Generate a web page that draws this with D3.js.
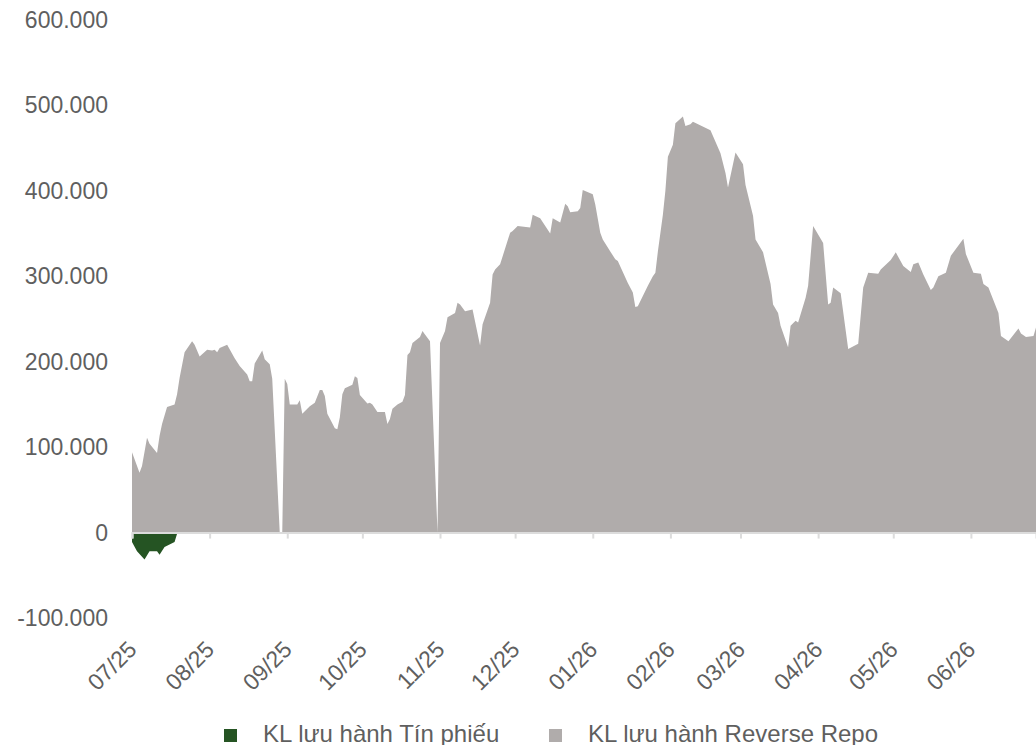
<!DOCTYPE html>
<html>
<head>
<meta charset="utf-8">
<script src="https://cdnjs.cloudflare.com/ajax/libs/d3/7.8.5/d3.min.js"></script>
<style>
  html, body { margin: 0; padding: 0; background: #fff; }
  #main { width: 1036px; height: 745px; }
  text { font-family: "Liberation Sans", Arial, sans-serif; fill: #5f5f5f; }
</style>
</head>
<body>
<div id="main"></div>
<script>
'use strict' ;

// KL luu hanh Reverse Repo
var repoDates = [
  '2025-07-01','2025-07-04','2025-07-05','2025-07-07','2025-07-08','2025-07-11','2025-07-12','2025-07-13',
  '2025-07-15','2025-07-18','2025-07-19','2025-07-20','2025-07-22','2025-07-25','2025-07-26','2025-07-28',
  '2025-07-31','2025-08-02','2025-08-03','2025-08-04','2025-08-05','2025-08-08','2025-08-11','2025-08-13',
  '2025-08-16','2025-08-17','2025-08-18','2025-08-19','2025-08-22','2025-08-23','2025-08-25','2025-08-26',
  '2025-08-29','2025-08-30','2025-08-31','2025-09-01','2025-09-02','2025-09-05','2025-09-06','2025-09-07',
  '2025-09-08','2025-09-10','2025-09-12','2025-09-14','2025-09-15','2025-09-16','2025-09-17','2025-09-20',
  '2025-09-21','2025-09-22','2025-09-23','2025-09-24','2025-09-27','2025-09-28','2025-09-29','2025-09-30',
  '2025-10-03','2025-10-04','2025-10-05','2025-10-07','2025-10-10','2025-10-11','2025-10-12','2025-10-13',
  '2025-10-15','2025-10-17','2025-10-18','2025-10-19','2025-10-20','2025-10-21','2025-10-24','2025-10-25',
  '2025-10-26','2025-10-28','2025-10-31','2025-11-01','2025-11-03','2025-11-04','2025-11-07','2025-11-08',
  '2025-11-09','2025-11-11','2025-11-14','2025-11-17','2025-11-18','2025-11-21','2025-11-22','2025-11-23',
  '2025-11-25','2025-11-29','2025-11-30','2025-12-02','2025-12-07','2025-12-08','2025-12-11','2025-12-15',
  '2025-12-16','2025-12-19','2025-12-21','2025-12-22','2025-12-23','2025-12-26','2025-12-27','2025-12-28',
  '2026-01-01','2026-01-02','2026-01-04','2026-01-05','2026-01-08','2026-01-10','2026-01-11','2026-01-15',
  '2026-01-17','2026-01-18','2026-01-19','2026-01-23','2026-01-25','2026-01-26','2026-01-27','2026-01-29',
  '2026-01-30','2026-01-31','2026-02-02','2026-02-03','2026-02-06','2026-02-07','2026-02-09','2026-02-10',
  '2026-02-17','2026-02-21','2026-02-23','2026-02-24','2026-02-27','2026-03-02','2026-03-03','2026-03-06',
  '2026-03-07','2026-03-10','2026-03-13','2026-03-14','2026-03-16','2026-03-17','2026-03-20','2026-03-21',
  '2026-03-23','2026-03-24','2026-03-27','2026-03-28','2026-03-30','2026-04-03','2026-04-05','2026-04-06',
  '2026-04-07','2026-04-10','2026-04-13','2026-04-17','2026-04-19','2026-04-21','2026-04-25','2026-04-26',
  '2026-04-30','2026-05-02','2026-05-05','2026-05-08','2026-05-09','2026-05-11','2026-05-13','2026-05-16',
  '2026-05-17','2026-05-19','2026-05-22','2026-05-24','2026-05-29','2026-05-30','2026-06-02','2026-06-05',
  '2026-06-06','2026-06-08','2026-06-12','2026-06-13','2026-06-16','2026-06-20','2026-06-21','2026-06-23',
  '2026-06-26','2026-06-27'
];
var repoValues = [
  94000, 70000, 78000, 111000, 104000, 93000, 113000, 127000,
  147000, 150000, 162000, 181000, 211000, 224000, 220000, 206000,
  214000, 213000, 214000, 211000, 216000, 220000, 204000, 195000,
  185000, 177000, 177000, 198000, 213000, 203000, 197000, 180000,
  0, 0, 180000, 174000, 150000, 150000, 155000, 139000,
  142000, 148000, 152000, 167000, 167000, 160000, 139000, 122000,
  121000, 135000, 162000, 169000, 173000, 183000, 181000, 161000,
  151000, 152000, 150000, 141000, 141000, 127000, 133000, 145000,
  150000, 153000, 161000, 208000, 211000, 222000, 229000, 236000,
  232000, 224000, 0, 222000, 236000, 252000, 257000, 269000,
  267000, 259000, 261000, 219000, 244000, 269000, 302000, 308000,
  314000, 351000, 353000, 359000, 357000, 372000, 368000, 350000,
  368000, 363000, 385000, 382000, 375000, 376000, 380000, 401000,
  396000, 384000, 351000, 343000, 329000, 320000, 318000, 292000,
  281000, 264000, 265000, 289000, 300000, 304000, 329000, 372000,
  400000, 440000, 454000, 479000, 487000, 476000, 478000, 481000,
  471000, 444000, 421000, 404000, 445000, 431000, 407000, 371000,
  343000, 328000, 291000, 267000, 257000, 242000, 217000, 242000,
  248000, 246000, 275000, 289000, 359000, 339000, 267000, 269000,
  287000, 280000, 215000, 221000, 287000, 304000, 303000, 308000,
  319000, 328000, 312000, 305000, 314000, 316000, 302000, 284000,
  287000, 300000, 304000, 324000, 344000, 326000, 304000, 303000,
  291000, 287000, 257000, 230000, 224000, 239000, 233000, 229000,
  230000, 240000
];

// KL luu hanh Tin phieu
var tpDates = [
  '2025-07-01','2025-07-03','2025-07-06','2025-07-08','2025-07-11',
  '2025-07-12','2025-07-14','2025-07-18','2025-07-19','2025-07-20'
];
var tpValues = [
  -11000, -22000, -31500, -22000, -22000,
  -26000, -17000, -11000, -1500, 0
];

var yTicks = [-100000, 0, 100000, 200000, 300000, 400000, 500000, 600000];
var seriesNames = ['KL lưu hành Tín phiếu', 'KL lưu hành Reverse Repo'];
var seriesColors = ['#255423', '#b0acab'];

var width = 1036;
var height = 745;
var M = { left: 132, right: 1036, top: 20, bottom: 618 };

var parse = d3.timeParse('%Y-%m-%d');
var repo = repoDates.map(function(d, i) { return { date: parse(d), value: repoValues[i] }; });
var tp = tpDates.map(function(d, i) { return { date: parse(d), value: tpValues[i] }; });

var vn = d3.formatLocale({ decimal: ',', thousands: '.', grouping: [3], currency: ['', ''], minus: '-' });
var fmt = vn.format(',');

var svg = d3.select('#main').append('svg')
  .attr('width', width)
  .attr('height', height);

var x = d3.scaleTime()
  .domain([parse('2025-07-01'), parse('2026-06-27')])
  .range([M.left, M.right]);

var y = d3.scaleLinear()
  .domain([-100000, 600000])
  .range([M.bottom, M.top]);

var area = d3.area()
  .x(function(d) { return x(d.date); })
  .y0(y(0))
  .y1(function(d) { return y(d.value); });

svg.append('path')
  .datum(repo)
  .attr('fill', seriesColors[1])
  .attr('d', area);

svg.append('path')
  .datum(tp)
  .attr('fill', seriesColors[0])
  .attr('d', area);

// y labels, no axis line
svg.append('g')
  .selectAll('text')
  .data(yTicks).enter()
  .append('text')
  .attr('x', 108)
  .attr('y', function(d) { return y(d); })
  .attr('dy', '0.35em')
  .attr('text-anchor', 'end')
  .style('font-size', '23px')
  .text(function(d) { return fmt(d); });

// x axis on the zero line
var xAxis = d3.axisBottom(x)
  .ticks(d3.timeMonth.every(1))
  .tickSize(6)
  .tickFormat(d3.timeFormat('%m/%y'));

var gx = svg.append('g')
  .attr('transform', 'translate(0,' + y(0) + ')')
  .call(xAxis);

gx.select('.domain').attr('stroke', '#dcdcdc').attr('stroke-width', 2);
gx.selectAll('.tick line').attr('stroke', '#dcdcdc').attr('stroke-width', 2);
gx.selectAll('.tick text').remove();

svg.append('g')
  .selectAll('text')
  .data(x.ticks(d3.timeMonth.every(1))).enter()
  .append('text')
  .attr('text-anchor', 'end')
  .attr('transform', function(d) { return 'translate(' + (x(d) + 6) + ',651) rotate(-45)'; })
  .style('font-size', '23px')
  .text(function(d) { return d3.timeFormat('%m/%y')(d); });

// legend
var legendX = [224, 549];
var legend = svg.append('g')
  .selectAll('g')
  .data(seriesNames).enter()
  .append('g')
  .attr('transform', function(d, i) { return 'translate(' + legendX[i] + ',729)'; });

legend.append('rect')
  .attr('width', 13)
  .attr('height', 13)
  .attr('fill', function(d, i) { return seriesColors[i]; });

legend.append('text')
  .attr('x', 39)
  .attr('y', 13)
  .style('font-size', '24px')
  .text(function(d) { return d; });
</script>
</body>
</html>
